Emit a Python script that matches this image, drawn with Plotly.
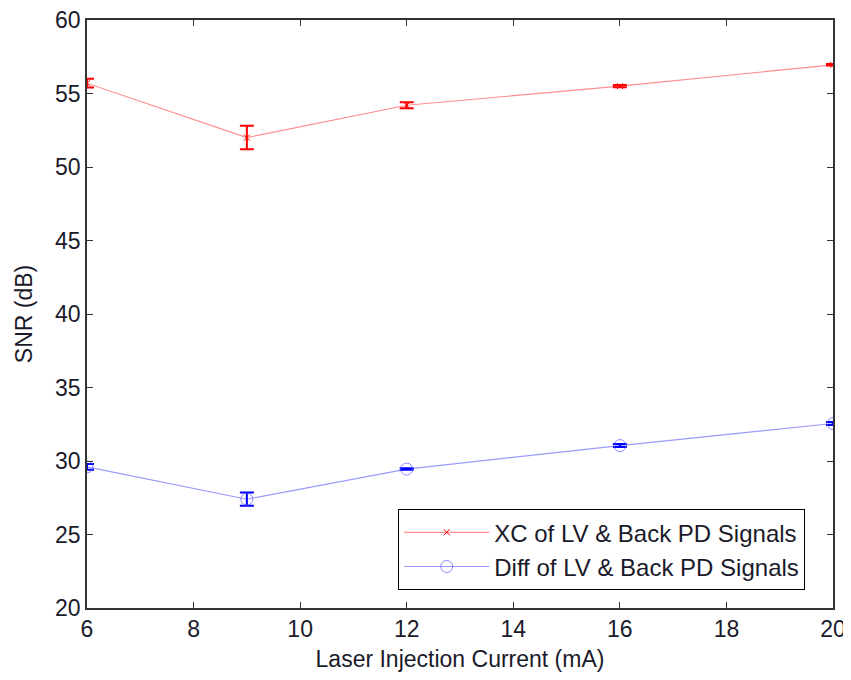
import plotly.graph_objects as go

current = [6, 9, 12, 16, 20]
xc_snr = [55.7, 52.0, 54.2, 55.5, 56.95]
xc_err = [0.3, 0.8, 0.2, 0.07, 0.05]
diff_snr = [29.6, 27.4, 29.45, 31.05, 32.55]
diff_err = [0.2, 0.45, 0.05, 0.1, 0.1]

x_ticks = [6, 8, 10, 12, 14, 16, 18, 20]
y_ticks = [20, 25, 30, 35, 40, 45, 50, 55, 60]

font = "Liberation Sans, Arial, sans-serif"
fsize = 23
tcol = "#1a1a2a"

fig = go.Figure()
fig.add_trace(go.Scatter(
    x=current, y=xc_snr, mode="lines+markers",
    name="XC of LV & Back PD Signals",
    line=dict(color="rgba(255,0,0,0.45)", width=1.2),
    marker=dict(symbol="x-thin", size=6, color="red", line=dict(color="red", width=1)),
    error_y=dict(type="data", array=xc_err, visible=True, color="red", thickness=2, width=7),
))
fig.add_trace(go.Scatter(
    x=current, y=diff_snr, mode="lines+markers",
    name="Diff of LV & Back PD Signals",
    line=dict(color="rgba(0,0,255,0.4)", width=1.2),
    marker=dict(symbol="circle-open", size=12, color="rgba(90,90,255,0.7)", line=dict(width=1)),
    error_y=dict(type="data", array=diff_err, visible=True, color="blue", thickness=2, width=7),
))

axis_common = dict(
    showgrid=False, zeroline=False, showline=True, linecolor="#333333", linewidth=1.5,
    mirror="ticks", ticks="inside", ticklen=6, tickwidth=1.2, tickcolor="#333333",
    tickfont=dict(family=font, size=fsize, color=tcol), automargin=False,
    ticklabeloverflow="allow",
)
fig.update_xaxes(range=[6, 20], tickvals=x_ticks, **axis_common,
                 title=dict(text="Laser Injection Current (mA)", font=dict(family=font, size=fsize, color=tcol), standoff=10))
fig.update_yaxes(range=[20, 60], tickvals=y_ticks, **axis_common,
                 title=dict(text="SNR (dB)", font=dict(family=font, size=fsize, color=tcol), standoff=16))

fig.update_layout(
    width=843, height=672,
    margin=dict(l=79, r=18, t=12, b=72),
    plot_bgcolor="white", paper_bgcolor="white",
    font=dict(family=font, size=fsize, color=tcol),
    legend=dict(x=0.9625, y=0.0306, xanchor="right", yanchor="bottom",
                bordercolor="black", borderwidth=1.2, bgcolor="white",
                font=dict(family=font, size=24, color=tcol),
                tracegroupgap=0, itemwidth=85),
    showlegend=True,
)

fig.write_html("out.html")
